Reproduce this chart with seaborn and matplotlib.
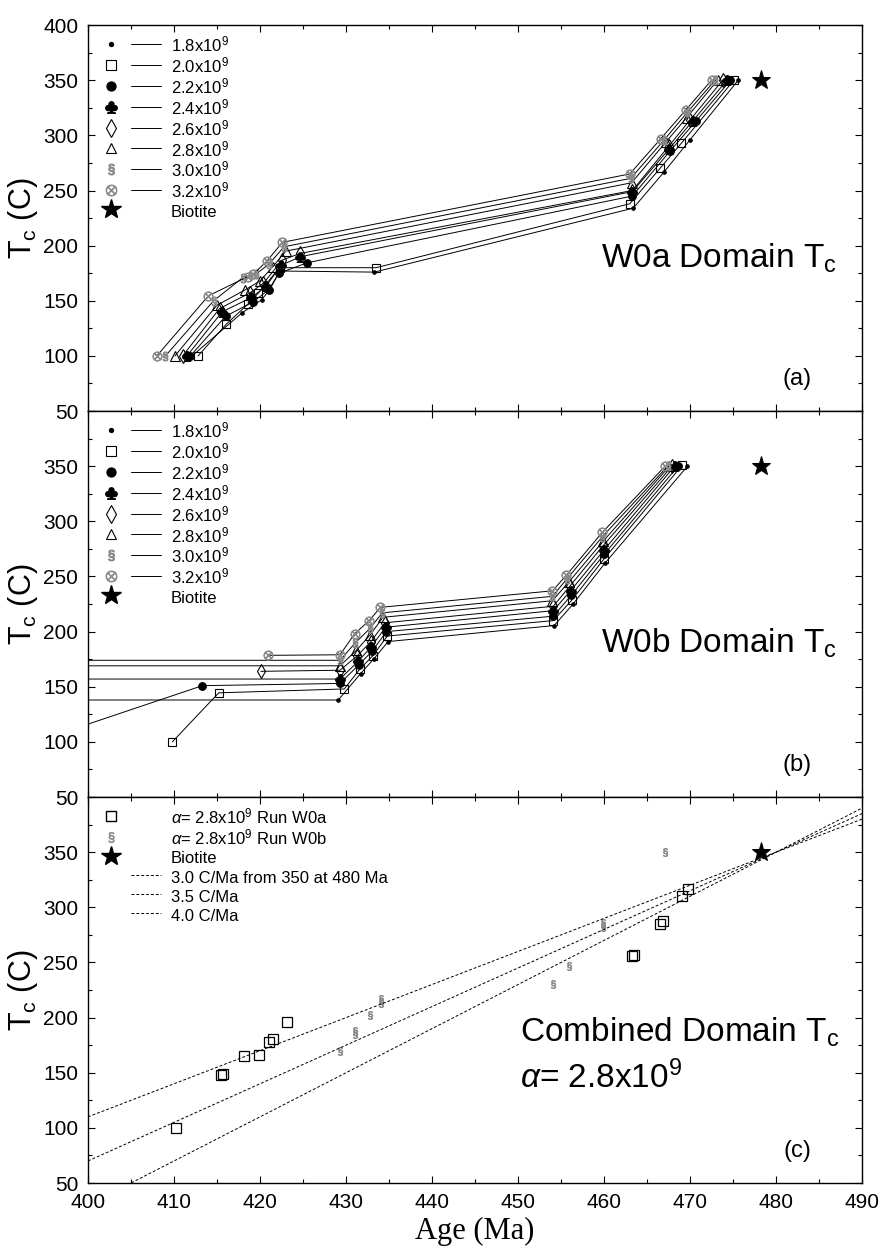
import matplotlib
matplotlib.use("Agg")
import matplotlib.pyplot as plt
from matplotlib.lines import Line2D
from matplotlib.legend_handler import HandlerTuple
from matplotlib.ticker import MultipleLocator
import seaborn as sns

# ---- data ------------------------------------------------------------
alpha_labels = ["1.8", "2.0", "2.2", "2.4", "2.6", "2.8", "3.0", "3.2"]

# Run W0a, one list per alpha value (same order as alpha_labels)
w0a_age = [
    [412.1, 417.9, 420.2, 421.2, 422.3, 433.3, 463.4, 467.0, 470.0, 475.6],
    [412.8, 416.1, 418.6, 419.8, 422.3, 433.5, 463.0, 466.5, 469.0, 475.1],
    [411.9, 416.0, 419.2, 421.0, 422.2, 425.5, 463.3, 467.7, 470.7, 474.7],
    [411.5, 415.6, 419.0, 420.7, 422.4, 424.7, 463.3, 467.6, 470.3, 474.3],
    [411.0, 415.3, 418.8, 420.4, 422.6, 424.7, 463.3, 467.5, 470.0, 473.8],
    [410.1, 415.0, 418.3, 420.0, 421.5, 423.0, 463.2, 467.2, 469.6, 473.2],
    [409.0, 414.6, 418.0, 419.5, 421.0, 422.8, 463.1, 467.0, 469.7, 472.9],
    [408.0, 414.0, 418.6, 419.2, 420.8, 422.6, 463.0, 466.6, 469.5, 472.5],
]
w0a_tc = [
    [100, 139, 151, 161, 177, 176, 234, 267, 296, 350],
    [100, 129, 147, 157, 180, 180, 238, 270, 293, 350],
    [100, 136, 149, 160, 175, 184.5, 245, 286, 313, 350],
    [100, 140, 153, 163, 182, 190, 249, 288, 313, 350],
    [100, 143, 157, 166, 187, 193, 250, 290, 314, 350],
    [100, 146, 160, 168, 181, 195, 257, 294, 316, 350],
    [100, 150, 171, 174, 183, 199, 261, 296, 321, 350],
    [100, 154.5, 172, 174, 186, 203, 265, 297, 323, 350],
]

# Run W0b
w0b_age = [
    [395.0, 429.1, 431.7, 433.2, 434.9, 454.2, 456.4, 460.1, 469.7],
    [409.8, 415.2, 429.8, 431.6, 433.1, 434.8, 454.1, 456.3, 460.0, 469.1],
    [395.0, 413.3, 429.3, 431.5, 433.0, 434.7, 454.1, 456.2, 460.0, 468.6],
    [395.0, 429.3, 431.4, 432.9, 434.6, 454.1, 456.1, 460.0, 468.2],
    [420.1, 429.3, 431.3, 432.9, 434.5, 454.1, 456.0, 459.9, 467.9],
    [395.0, 429.3, 431.2, 432.8, 434.3, 454.0, 455.9, 459.9, 467.6],
    [395.0, 429.3, 431.1, 432.8, 434.2, 454.0, 455.7, 459.8, 467.4],
    [420.9, 429.3, 431.0, 432.7, 434.0, 454.0, 455.6, 459.8, 467.1],
]
w0b_tc = [
    [138, 138, 162, 175, 191, 205.5, 225, 262, 350],
    [100, 144.5, 148, 166, 178, 196, 210, 229, 266, 351],
    [103, 151, 153, 170, 182, 200, 214, 233, 270, 350],
    [157, 157, 173, 186, 204, 219, 237, 274, 350],
    [164, 165, 178, 191, 208, 223, 241, 278, 350],
    [169, 169, 183, 197, 213, 228, 245, 282, 350],
    [174, 174, 190, 203, 217, 232, 248, 286, 350],
    [178.5, 179, 198, 210, 222, 237, 251, 290, 350],
]

biotite_age = [478.2]
biotite_tc = [350]

# Combined panel, alpha = 2.8x10^9
comb_w0a_age = [410.2, 415.5, 415.7, 418.1, 419.9, 421.1, 421.5, 423.1,
                463.3, 463.5, 466.5, 466.8, 469.1, 469.8]
comb_w0a_tc = [100, 148, 148.5, 165.5, 166.5, 177.5, 180.5, 196,
               256, 256.5, 285, 288, 310, 316.5]
comb_w0b_age = [429.3, 431.0, 431.1, 432.8, 434.1, 434.1, 454.1, 455.9,
                459.9, 459.9, 467.1]
comb_w0b_tc = [169.5, 185, 188, 202.5, 213, 216.5, 230.5, 246.5,
               282, 286, 350]

rate_labels = ["3.0 C/Ma from 350 at 480 Ma", "3.5 C/Ma", "4.0 C/Ma"]
rate_age = [400, 490]
rate_tc = [[110, 380], [70, 385], [30, 390]]

# ---- style -----------------------------------------------------------
sns.set_theme(style="ticks")
plt.rcParams["font.family"] = ["Liberation Sans", "DejaVu Sans"]
plt.rcParams["mathtext.fontset"] = "custom"
plt.rcParams["mathtext.rm"] = "Liberation Sans"
plt.rcParams["mathtext.it"] = "Liberation Sans:italic"
plt.rcParams["mathtext.bf"] = "Liberation Sans:bold"
plt.rcParams["text.color"] = "black"
plt.rcParams["axes.labelcolor"] = "black"

grey = "#8a8a8a"
# marker, size, face, edge
styles = [
    ("o", 2.5, "black", "black"),
    ("s", 6.0, "none", "black"),
    ("o", 5.5, "black", "black"),
    (r"$\clubsuit$", 7.0, "black", "black"),
    ("d", 7.5, "none", "black"),
    ("^", 6.5, "none", "black"),
    (r"$\S$", 6.5, grey, grey),
    (r"$\otimes$", 6.5, grey, grey),
]

fig = plt.figure(figsize=(8.81, 12.54), dpi=100)
axes = fig.subplots(3, 1, sharex=True)
fig.subplots_adjust(left=0.0999, right=0.9785, top=0.980, bottom=0.0566, hspace=0)


def draw_run(ax, ages, temps):
    for a, t, (m, s, fc, ec) in zip(ages, temps, styles):
        sns.lineplot(x=a, y=t, ax=ax, sort=False, estimator=None, color="black",
                     linewidth=0.7, marker=m, markersize=s, markerfacecolor=fc,
                     markeredgecolor=ec, markeredgewidth=0.8)
    sns.lineplot(x=biotite_age, y=biotite_tc, ax=ax, estimator=None, color="black",
                 linestyle="none", marker="*", markersize=14,
                 markerfacecolor="black", markeredgecolor="black")


blank = Line2D([], [], linestyle="none")
lineh = Line2D([], [], color="black", linewidth=0.7)
star_h = Line2D([], [], linestyle="none", marker="*", markersize=15,
                color="black")


def run_legend(ax):
    handles = []
    labels = []
    for lab, (m, s, fc, ec) in zip(alpha_labels, styles):
        mk = Line2D([], [], linestyle="none", marker=m, markersize=s * 1.2,
                    markerfacecolor=fc, markeredgecolor=ec, markeredgewidth=0.8)
        handles.append((mk, lineh))
        labels.append(lab + "x10$^9$")
    handles.append((star_h, blank))
    labels.append("Biotite")
    return handles, labels


def put_legend(ax, handles, labels):
    ax.legend(handles, labels, handler_map={tuple: HandlerTuple(ndivide=None, pad=0.3)},
              loc="upper left", bbox_to_anchor=(0.0103, 0.975), frameon=False,
              fontsize=12, handlelength=3.9, handletextpad=0.58, handleheight=1.38,
              labelspacing=0.0, borderpad=0, borderaxespad=0)


ax_a, ax_b, ax_c = axes
draw_run(ax_a, w0a_age, w0a_tc)
draw_run(ax_b, w0b_age, w0b_tc)

h, l = run_legend(ax_a)
put_legend(ax_a, h, l)
put_legend(ax_b, h, l)

# combined panel
sns.lineplot(x=comb_w0a_age, y=comb_w0a_tc, ax=ax_c, sort=False, estimator=None,
             linestyle="none", marker="s", markersize=6.5, markerfacecolor="none",
             markeredgecolor="black", markeredgewidth=0.9)
sns.lineplot(x=comb_w0b_age, y=comb_w0b_tc, ax=ax_c, sort=False, estimator=None,
             linestyle="none", marker=r"$\S$", markersize=6, markerfacecolor=grey,
             markeredgecolor=grey, markeredgewidth=0.5)
for tc in rate_tc:
    sns.lineplot(x=rate_age, y=tc, ax=ax_c, estimator=None, color="black",
                 linewidth=0.7, linestyle=(0, (3, 2)))
sns.lineplot(x=biotite_age, y=biotite_tc, ax=ax_c, estimator=None, color="black",
             linestyle="none", marker="*", markersize=14,
             markerfacecolor="black", markeredgecolor="black")

dash_h = Line2D([], [], color="black", linewidth=0.7, linestyle=(0, (3, 2)))
sq_h = Line2D([], [], linestyle="none", marker="s", markersize=7,
              markerfacecolor="none", markeredgecolor="black")
sec_h = Line2D([], [], linestyle="none", marker=r"$\S$", markersize=7.5,
               markerfacecolor=grey, markeredgecolor=grey, markeredgewidth=0.5)
c_handles = [(sq_h, blank), (sec_h, blank), (star_h, blank)] + [(blank, dash_h)] * 3
c_labels = [r"$\alpha$= 2.8x10$^9$ Run W0a", r"$\alpha$= 2.8x10$^9$ Run W0b",
            "Biotite"] + rate_labels
put_legend(ax_c, c_handles, c_labels)

# ---- axes ------------------------------------------------------------
for i, ax in enumerate(axes):
    ax.set_xlim(400, 490)
    ax.set_ylim(50, 400)
    ax.xaxis.set_major_locator(MultipleLocator(10))
    ax.xaxis.set_minor_locator(MultipleLocator(5))
    ax.yaxis.set_minor_locator(MultipleLocator(25))
    yt = list(range(50, 401, 50))
    ylab = [str(v) for v in yt]
    if i > 0:
        ylab[-1] = ""
    ax.set_yticks(yt, ylab)
    ax.tick_params(which="both", direction="in", top=True, right=True,
                   labelsize=15, pad=7, width=0.8, colors="black")
    ax.tick_params(which="major", length=5)
    ax.tick_params(which="minor", length=3)
    for sp in ax.spines.values():
        sp.set_linewidth(1.0)
        sp.set_color("black")
    ax.set_ylabel(r"T$_\mathrm{c}$ (C)", fontsize=22, labelpad=2)
    ax.set_xlabel("")

ax_c.set_xlabel("Age (Ma)", fontsize=22, family="Liberation Serif", labelpad=4)

ax_a.text(0.968, 0.371, r"W0a Domain T$_\mathrm{c}$", transform=ax_a.transAxes,
          ha="right", va="baseline", fontsize=24)
ax_b.text(0.968, 0.375, r"W0b Domain T$_\mathrm{c}$", transform=ax_b.transAxes,
          ha="right", va="baseline", fontsize=24)
ax_c.text(0.558, 0.367, r"Combined Domain T$_\mathrm{c}$", transform=ax_c.transAxes,
          ha="left", va="baseline", fontsize=24)
ax_c.text(0.558, 0.247, r"$\alpha$= 2.8x10$^9$", transform=ax_c.transAxes,
          ha="left", va="baseline", fontsize=24)

for ax, lab in zip(axes, ["(a)", "(b)", "(c)"]):
    ax.text(0.916, 0.083, lab, transform=ax.transAxes, ha="center", va="center",
            fontsize=17)

fig.savefig("out.png", dpi=100)
